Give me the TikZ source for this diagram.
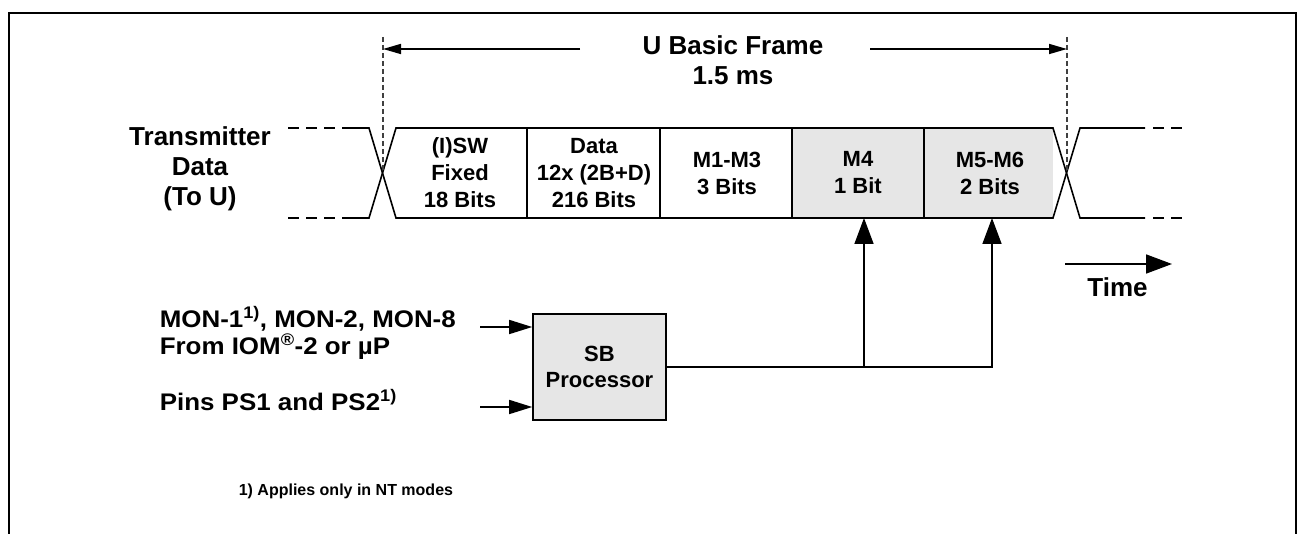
\documentclass[tikz,border=0pt]{standalone}
\usepackage{fontspec}
\setmainfont{Liberation Sans}
\newfontfamily\sidefont{Liberation Sans}[FakeStretch=1.08]
\usetikzlibrary{arrows.meta}
\definecolor{cellgray}{HTML}{E6E6E6}
\begin{document}
\begin{tikzpicture}[x=1pt,y=-1pt,
  line width=1.6pt,
  lbl/.style={font=\fontsize{26}{30}\selectfont\bfseries, align=center, inner sep=0pt},
  celltxt/.style={font=\fontsize{22}{27}\selectfont\bfseries, align=center, inner sep=0pt},
  side/.style={font=\sidefont\fontsize{24}{26}\selectfont\bfseries, inner sep=0pt, anchor=base west},
  note/.style={font=\fontsize{16}{19}\selectfont\bfseries, inner sep=0pt, anchor=base west},
  guide/.style={line width=1.2pt, dash pattern=on 5pt off 3pt, black!75},
  endash/.style={dash pattern=on 11pt off 7pt},
  bighead/.style={-{Triangle[length=26pt,width=19pt]}},
  inhead/.style={-{Triangle[length=23pt,width=14pt]}},
  framehead/.style={-{Triangle[length=18pt,width=10pt]}},
  sbbox/.style={draw, fill=cellgray, minimum width=133pt, minimum height=106pt, inner sep=0pt, font=\fontsize{22}{26}\selectfont\bfseries, align=center}
]
\useasboundingbox (0,0) rectangle (1299,534);
% border
\draw[line width=2.6pt] (9,534) -- (9,13) -- (1296,13) -- (1296,534);

% grey cells
\fill[cellgray] (792,128) rectangle (1053,218);

% waveform
\draw (347,128) -- (369,128) -- (396,218) -- (1053,218) -- (1080,128) -- (1145,128);
\draw (347,218) -- (369,218) -- (396,128) -- (1053,128) -- (1080,218) -- (1145,218);
\draw[endash] (288,128) -- (347,128);
\draw[endash] (288,218) -- (347,218);
\draw[endash] (1153,128) -- (1185,128);
\draw[endash] (1153,218) -- (1185,218);
\draw (527,128) -- (527,218);
\draw (660,128) -- (660,218);
\draw (792,128) -- (792,218);
\draw (924,128) -- (924,218);

% guides
\coordinate (gl) at (383,37);
\coordinate (gr) at (1067,37);
\draw[guide] (gl) -- (383,173);
\draw[guide] (gr) -- (1067,173);

% frame label and arrows
\node[lbl] (frame) at (733,60.5) {U Basic Frame\\1.5 ms};
\coordinate (fl) at (580,49);
\coordinate (fr) at (870,49);
\draw[framehead] (fl) -- (fl -| gl);
\draw[framehead] (fr) -- (fr -| gr);

% signal label
\node[lbl] (tx) at (200,169) {Transmitter\\Data\\(To U)};

% cell texts
\node[celltxt] (isw) at (460,173) {(I)SW\\Fixed\\18 Bits};
\node[celltxt] (data) at (594,173) {Data\\12x (2B+D)\\216 Bits};
\node[celltxt] (m13) at (727,173) {M1-M3\\3 Bits};
\node[celltxt] (m4) at (858,173) {M4\\1 Bit};
\node[celltxt] (m56) at (990,173) {M5-M6\\2 Bits};

% time arrow
\coordinate (ts) at (1065,264);
\coordinate (te) at (1172,264);
\draw[bighead] (ts) -- (te);
\node[lbl, anchor=base] (time) at (1117.5,297) {Time};

% SB processor
\node[sbbox] (sb) at (599.5,367) {SB\\Processor};
\coordinate (i1) at (480,327);
\coordinate (i2) at (480,407);
\draw[inhead] (i1) -- (i1 -| sb.west);
\draw[inhead] (i2) -- (i2 -| sb.west);
\node[side] (mon) at (159,328) {MON-1\textsuperscript{1)}, MON-2, MON-8};
\node[side] (iom) at (159,355) {From IOM\textsuperscript{®}-2 or µP};
\node[side] (pins) at (159,411) {Pins PS1 and PS2\textsuperscript{1)}};

% outputs
\coordinate (t1) at (864,218);
\coordinate (t2) at (992,218);
\coordinate (j) at (992,367);
\draw[bighead] (sb.east) -- (j) -- (t2);
\draw[bighead] (t1 |- j) -- (t1);

% footnote
\node[note] (fn) at (238,496) {1) Applies only in NT modes};
\end{tikzpicture}
\end{document}
